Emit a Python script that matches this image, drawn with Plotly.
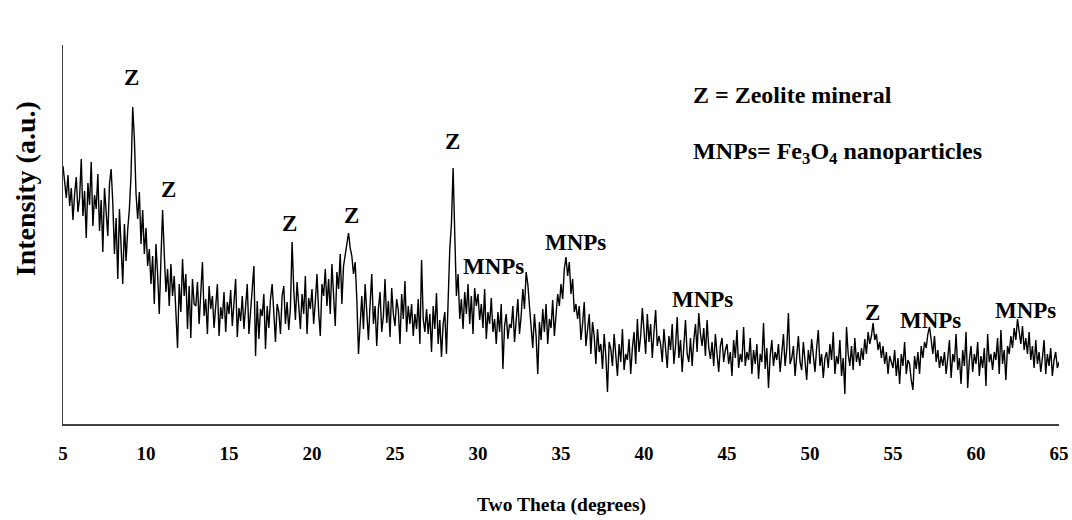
import numpy as np
import plotly.graph_objects as go

I_05 = [258, 240, 226, 249, 218, 236, 204, 230, 247, 212,
        226, 265, 208, 233, 186, 241, 219, 262, 198, 229,
        215, 250, 193, 224, 172, 236, 205, 188, 240, 255,
        221, 170, 206, 145, 215, 180, 140, 200, 163, 195,
        215, 250, 317, 285, 230, 205, 232, 180, 214, 170,
        196, 158, 175, 140, 168, 120, 180, 150, 110, 165,
        214, 170, 132, 155, 118, 160, 128, 148, 112, 76,
        140, 112, 165, 128, 150, 95, 138, 86, 145, 120,
        118, 142, 100, 130, 162, 108, 125, 90, 138, 115,
        128, 96, 120, 140, 88, 117, 105, 132, 92, 122]
I_15 = [110, 134, 98, 121, 145, 87, 116, 103, 128, 95,
        119, 140, 90, 112, 127, 158, 68, 123, 85, 115,
        108, 130, 75, 118, 96, 125, 140, 104, 82, 120,
        112, 90, 128, 138, 100, 122, 94, 116, 182, 135,
        104, 142, 118, 95, 130, 110, 148, 90, 126, 115,
        135, 100, 122, 150, 112, 88, 140, 128, 155, 118,
        145, 110, 160, 126, 98, 152, 135, 170, 120, 158,
        172, 180, 191, 176, 168, 150, 162, 125, 70, 105,
        128, 95, 140, 112, 84, 120, 150, 100, 118, 78,
        115, 132, 92, 108, 145, 101, 123, 87, 136, 110]
I_25 = [98, 125, 114, 80, 130, 105, 143, 92, 118, 100,
        120, 88, 110, 95, 125, 80, 164, 105, 92, 115,
        90, 110, 72, 118, 95, 131, 80, 104, 67, 100,
        112, 70, 130, 175, 200, 256, 190, 128, 150, 105,
        125, 95, 132, 110, 140, 100, 128, 90, 136, 118,
        130, 104, 120, 96, 135, 85, 112, 100, 126, 92,
        105, 80, 112, 92, 120, 55, 98, 110, 85, 100,
        96, 118, 82, 104, 125, 90, 108, 135, 115, 152,
        140, 118, 95, 76, 110, 88, 50, 102, 84, 115,
        92, 120, 80, 105, 96, 124, 88, 110, 130, 118]
I_35 = [140, 125, 155, 167, 148, 162, 130, 145, 112, 120,
        105, 118, 84, 100, 122, 78, 96, 110, 70, 102,
        88, 60, 95, 72, 80, 55, 90, 68, 32, 82,
        75, 58, 90, 66, 48, 80, 62, 95, 54, 70,
        64, 85, 50, 76, 92, 60, 105, 72, 88, 116,
        96, 70, 110, 82, 100, 66, 92, 114, 78, 88,
        80, 62, 95, 70, 56, 88, 74, 100, 60, 78,
        107, 66, 84, 52, 76, 104, 70, 62, 86, 58,
        84, 100, 72, 111, 90, 78, 96, 68, 104, 76,
        65, 82, 58, 90, 70, 52, 78, 86, 62, 74]
I_45 = [80, 60, 72, 48, 84, 66, 94, 56, 70, 62,
        97, 58, 72, 64, 86, 50, 74, 60, 80, 45,
        70, 62, 101, 55, 76, 36, 68, 84, 58, 72,
        64, 80, 52, 70, 90, 58, 75, 111, 60, 66,
        78, 48, 70, 88, 62, 54, 82, 66, 44, 74,
        60, 85, 68, 52, 76, 94, 58, 70, 46, 66,
        72, 56, 80, 64, 92, 50, 68, 60, 84, 48,
        66, 30, 97, 70, 58, 78, 54, 86, 62, 72,
        58, 76, 64, 85, 70, 92, 80, 88, 101, 84,
        90, 74, 82, 66, 78, 60, 72, 50, 68, 62]
I_55 = [56, 74, 48, 66, 40, 70, 58, 82, 50, 64,
        60, 44, 34, 68, 55, 72, 50, 78, 66, 82,
        76, 90, 97, 84, 70, 88, 62, 74, 56, 68,
        58, 72, 50, 66, 84, 46, 70, 62, 90, 54,
        66, 40, 74, 58, 92, 36, 64, 78, 52, 70,
        60, 82, 48, 68, 56, 76, 38, 90, 62, 70,
        54, 72, 64, 86, 50, 94, 60, 74, 44, 78,
        70, 88, 76, 96, 84, 105, 90, 80, 98, 74,
        86, 70, 92, 64, 78, 56, 84, 60, 72, 52,
        66, 84, 50, 70, 58, 76, 48, 64, 72, 56,
        62]

intensity = I_05 + I_15 + I_25 + I_35 + I_45 + I_55
two_theta = np.round(5 + 0.1 * np.arange(len(intensity)), 1)

x_ticks = [5, 10, 15, 20, 25, 30, 35, 40, 45, 50, 55, 60, 65]

peak_labels = ["Z", "Z", "Z", "Z", "Z", "MNPs", "MNPs", "MNPs", "Z", "MNPs", "MNPs"]
peak_x = [9.1, 11.33, 18.63, 22.37, 28.46, 30.93, 35.88, 43.54, 53.79, 57.23, 62.96]
peak_y = [347, 235, 201, 209, 283, 158, 182, 125, 112, 104, 114]

FONT = "Liberation Serif"
LBL = 23

fig = go.Figure()
fig.add_trace(go.Scatter(x=two_theta, y=intensity, mode="lines",
                         line=dict(color="black", width=1.4), hoverinfo="skip",
                         showlegend=False))

for t, xx, yy in zip(peak_labels, peak_x, peak_y):
    fig.add_annotation(x=xx, y=yy, text="<b>%s</b>" % t, showarrow=False,
                       xanchor="center", yanchor="middle",
                       font=dict(family=FONT, size=LBL, color="black", weight="bold"))

fig.add_annotation(x=42.82, y=329, text="<b>Z = Zeolite mineral</b>", showarrow=False,
                   xanchor="left", yanchor="middle",
                   font=dict(family=FONT, size=24, color="black", weight="bold"))
fig.add_annotation(x=42.82, y=271,
                   text="<b>MNPs= Fe<sub>3</sub>O<sub>4</sub> nanoparticles</b>",
                   showarrow=False, xanchor="left", yanchor="middle",
                   font=dict(family=FONT, size=24, color="black", weight="bold"))

# axis titles
fig.add_annotation(xref="paper", yref="paper", x=0.5, y=-0.215,
                   text="<b>Two Theta (degrees)</b>", showarrow=False,
                   xanchor="center", yanchor="middle",
                   font=dict(family=FONT, size=19.5, color="black", weight="bold"))
fig.add_annotation(xref="paper", yref="paper", x=-0.038, y=0.62,
                   text="<b>Intensity (a.u.)</b>", showarrow=False, textangle=-90,
                   xanchor="center", yanchor="middle",
                   font=dict(family=FONT, size=28, color="black", weight="bold"))

fig.update_layout(
    width=1072, height=520,
    margin=dict(l=63, r=13, t=45, b=96, autoexpand=False),
    plot_bgcolor="white", paper_bgcolor="white",
    xaxis=dict(range=[5, 65], tickvals=x_ticks, showgrid=False, zeroline=False,
               automargin=False,
               showline=True, linecolor="#404040", linewidth=1.5,
               ticks="outside", ticklen=11, tickcolor="rgba(0,0,0,0)",
               tickfont=dict(family=FONT, size=19, color="black", weight="bold")),
    yaxis=dict(range=[0, 379], showgrid=False, zeroline=False, showticklabels=False,
               automargin=False,
               showline=True, linecolor="#404040", linewidth=1.2, ticks=""),
)

fig.write_html("out.html")
